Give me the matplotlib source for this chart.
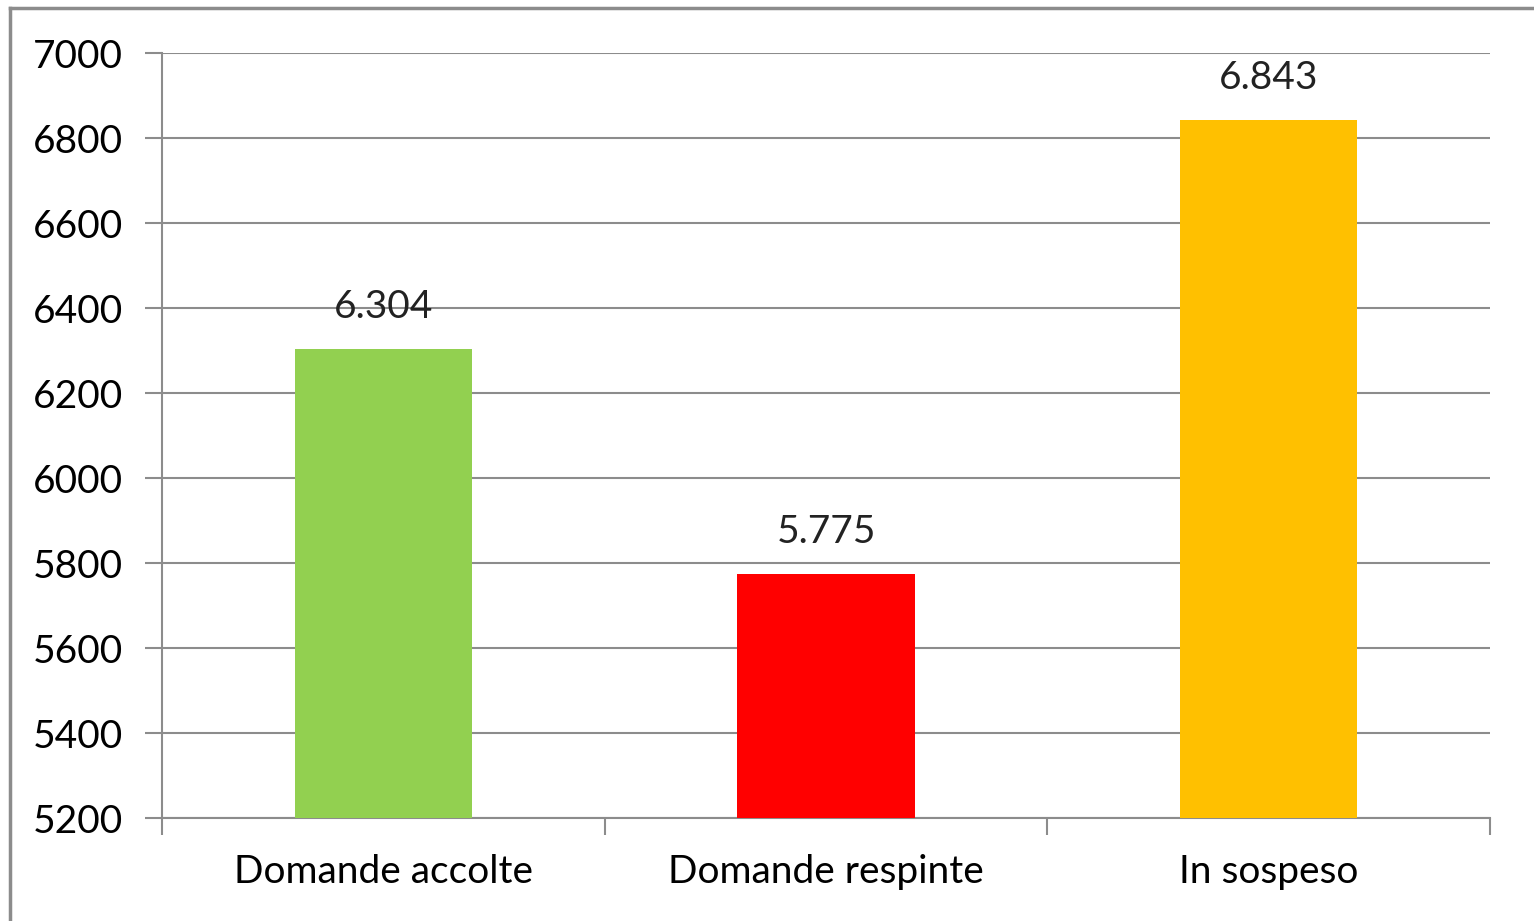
import matplotlib

matplotlib.use("Agg")
import matplotlib.pyplot as plt
from matplotlib.lines import Line2D

categories = ["Domande accolte", "Domande respinte", "In sospeso"]
values = [6304, 5775, 6843]
value_labels = ["6.304", "5.775", "6.843"]
colors = ["#92D050", "#FF0000", "#FFC000"]
yticks = [5200, 5400, 5600, 5800, 6000, 6200, 6400, 6600, 6800, 7000]

plt.rcParams["font.family"] = ["Lato", "DejaVu Sans"]
GRAY = "#8c8c8c"
FS = 28

fig = plt.figure(figsize=(15.34, 9.21), dpi=100)
ax = fig.add_axes([162 / 1534, 103 / 921, 1328 / 1534, 765 / 921])

x = range(len(categories))
ax.bar(x, [v - 5200 for v in values], bottom=5200, width=0.4, color=colors, zorder=3)
for i, (v, lab) in enumerate(zip(values, value_labels)):
    ax.text(i, v + 55, lab, ha="center", va="bottom", fontsize=FS, color="#222222")

ax.set_xlim(-0.5, 2.5)
ax.set_ylim(5200, 7000)
ax.set_yticks(yticks)
ax.set_yticklabels([str(t) for t in yticks])
ax.set_xticks([-0.5, 0.5, 1.5, 2.5])
ax.set_xticklabels([])
ax.set_xticks(list(x), minor=True)
ax.set_xticklabels(categories, minor=True)
ax.tick_params(axis="x", which="minor", length=0, pad=26, labelsize=FS)
ax.tick_params(axis="x", which="major", length=12, width=1.5, color=GRAY)
ax.tick_params(axis="y", length=12, width=1.5, color=GRAY, pad=16, labelsize=FS)
ax.grid(axis="y", color=GRAY, linewidth=1.5, zorder=0)
ax.set_axisbelow(True)
for s in ["top", "right"]:
    ax.spines[s].set_visible(False)
for s in ["left", "bottom"]:
    ax.spines[s].set_color(GRAY)
    ax.spines[s].set_linewidth(1.5)

# outer chart frame (left and top edges visible)
fig.add_artist(Line2D([10 / 1534, 10 / 1534], [0, 1 - 8 / 921], color=GRAY, lw=2.5))
fig.add_artist(Line2D([10 / 1534, 1], [1 - 8 / 921, 1 - 8 / 921], color=GRAY, lw=2.5))

fig.savefig("out.png", dpi=100)
